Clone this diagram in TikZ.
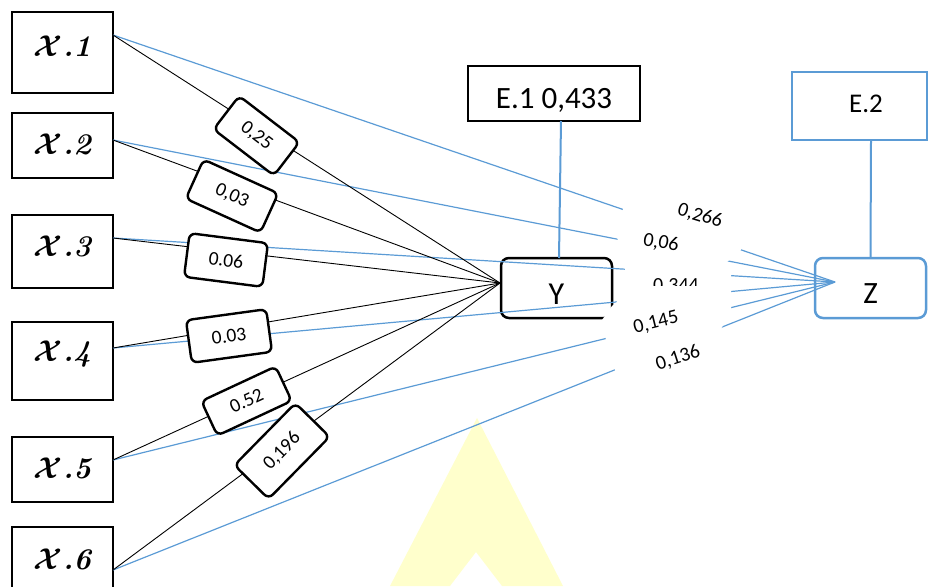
\RequirePackage{fix-cm}
\documentclass[tikz,border=0pt]{standalone}
\usepackage{fontspec}
\setsansfont{Carlito}
\definecolor{ablue}{RGB}{91,155,213}
\definecolor{wmark}{RGB}{255,255,204}
\begin{document}
\begin{tikzpicture}[x=1pt,y=-1pt,
  every node/.style={font=\sffamily},
  blueline/.style={draw=ablue, line width=1.2pt},
  blackline/.style={draw=black, line width=0.9pt},
  xbox/.style={draw, line width=2.8pt, minimum width=101pt, inner sep=0pt, outer sep=0pt},
  xlab/.style={font=\rmfamily\bfseries\itshape\boldmath\fontsize{30}{30}\selectfont, inner sep=0pt},
  wbox/.style={draw, line width=2.4pt, rounded corners=6pt, fill=white, inner sep=0pt,
    font=\sffamily\fontsize{19.5}{19.5}\selectfont},
  bigbox/.style={line width=2.5pt, inner sep=0pt, outer sep=0pt, text depth=0pt},
  plabel/.style={font=\sffamily\fontsize{20}{20}\selectfont, inner sep=1pt},
  stem/.style={draw=ablue, line width=2pt},
]
\useasboundingbox (0,0) rectangle (928,586);

% faint watermark letter
\fill[wmark] (477,418) -- (563,586) -- (502,586) -- (476,552) -- (450,586) -- (390,586) -- cycle;

% exogenous variables
\node[xbox, minimum height=81pt, label={[xlab, yshift=6pt]center:{$\mathcal{X}$.1}}] (x1) at (62.5,52.5) {};
\node[xbox, minimum height=65pt, label={[xlab, yshift=1.5pt]center:{$\mathcal{X}$.2}}] (x2) at (62.5,145.5) {};
\node[xbox, minimum height=73pt, label={[xlab, yshift=5pt]center:{$\mathcal{X}$.3}}] (x3) at (62.5,251.5) {};
\node[xbox, minimum height=78pt, label={[xlab, yshift=7pt]center:{$\mathcal{X}$.4}}] (x4) at (62.5,361) {};
\node[xbox, minimum height=65pt, label={[xlab, yshift=1pt]center:{$\mathcal{X}$.5}}] (x5) at (62.5,469.5) {};
\node[xbox, minimum height=76pt, label={[xlab, yshift=6pt]center:{$\mathcal{X}$.6}}] (x6) at (62.5,565) {};

% intervening and endogenous variables
\node[bigbox, draw, rounded corners=8pt, minimum width=111pt, minimum height=60pt,
  font=\sffamily\fontsize{32}{32}\selectfont, text height=33pt] (y) at (556.5,288) {Y};
\node[bigbox, draw=ablue, rounded corners=8pt, minimum width=111pt, minimum height=60pt,
  font=\sffamily\fontsize{31}{31}\selectfont, text height=30pt] (z) at (870.5,288) {Z};
\node[bigbox, draw, minimum width=172pt, minimum height=55pt,
  font=\sffamily\fontsize{31}{31}\selectfont, text height=29pt] (e1) at (554,93.5) {E.1 0,433};
\node[bigbox, draw=ablue, minimum width=135pt, minimum height=68pt,
  font=\sffamily\fontsize{27}{27}\selectfont, text height=12pt] (e2) at (859.5,106) {\hspace*{13pt}E.2};

% paths X -> Z
\draw[blueline] ([yshift=17.5pt]x1.east) -- ([xshift=20pt,yshift=6pt]z.west);
\draw[blueline] ([yshift=5.5pt]x2.east) -- ([xshift=20pt,yshift=6pt]z.west);
\draw[blueline] ([yshift=13.5pt]x3.east) -- ([xshift=20pt,yshift=6pt]z.west);
\draw[blueline] ([yshift=13pt]x4.east) -- ([xshift=20pt,yshift=6pt]z.west);
\draw[blueline] ([yshift=9.5pt]x5.east) -- ([xshift=20pt,yshift=6pt]z.west);
\draw[blueline] ([yshift=-5pt]x6.east) -- ([xshift=20pt,yshift=6pt]z.west);

% paths X -> Y
\draw[blackline] ([yshift=17.5pt]x1.east) -- ([xshift=-1pt,yshift=5pt]y.west);
\draw[blackline] ([yshift=5.5pt]x2.east) -- ([xshift=-1pt,yshift=5pt]y.west);
\draw[blackline] ([yshift=13.5pt]x3.east) -- ([xshift=-1pt,yshift=5pt]y.west);
\draw[blackline] ([yshift=13pt]x4.east) -- ([xshift=-1pt,yshift=5pt]y.west);
\draw[blackline] ([yshift=9.5pt]x5.east) -- ([xshift=-1pt,yshift=5pt]y.west);
\draw[blackline] ([yshift=-5pt]x6.east) -- ([xshift=-1pt,yshift=5pt]y.west);

% error terms
\draw[stem] ([xshift=7pt]e1.south) -- ([xshift=2.5pt]y.north);
\draw[stem] ([xshift=11.5pt]e2.south) -- (z.north);

% coefficients X -> Y
\node[wbox, minimum width=76pt, minimum height=42pt, rotate=-37.5] (w1) at (256.5,135.75) {0,25};
\node[wbox, minimum width=82pt, minimum height=43pt, rotate=-24.4] (w2) at (232,196) {0,03};
\node[wbox, minimum width=79pt, minimum height=44pt, rotate=-7.3] (w3) at (226,260) {0.06};
\node[wbox, minimum width=81pt, minimum height=43pt, rotate=7.8] (w4) at (229,336) {0.03};
\node[wbox, minimum width=82pt, minimum height=38pt, rotate=25] (w5) at (246.5,401) {0.52};
\node[wbox, minimum width=87pt, minimum height=48pt, rotate=45.5] (w6) at (282,451) {0,196};

% backdrop of the coefficients X -> Z
\fill[white] (624,204) -- (617,237) -- (625,270) -- (617,302) -- (612,306) -- (602,320)
  -- (606,340) -- (616,374) -- (718,334) -- (731,312) -- (731,271) -- (727,262)
  -- (741,250) -- (742,244) -- cycle;

% coefficients X -> Z
\node[plabel, rotate=-17] (c1) at (700,216) {0,266};
\node[plabel, rotate=-10] (c2) at (661,243) {0,06};
\begin{scope}
  \clip (630,270) rectangle (720,285);
  \node[plabel, anchor=base] (c3) at (676,291) {0,344};
\end{scope}
\node[plabel, rotate=14] (c4) at (656,323) {0,145};
\node[plabel, rotate=18] (c5) at (678,358) {0,136};
\end{tikzpicture}
\end{document}
